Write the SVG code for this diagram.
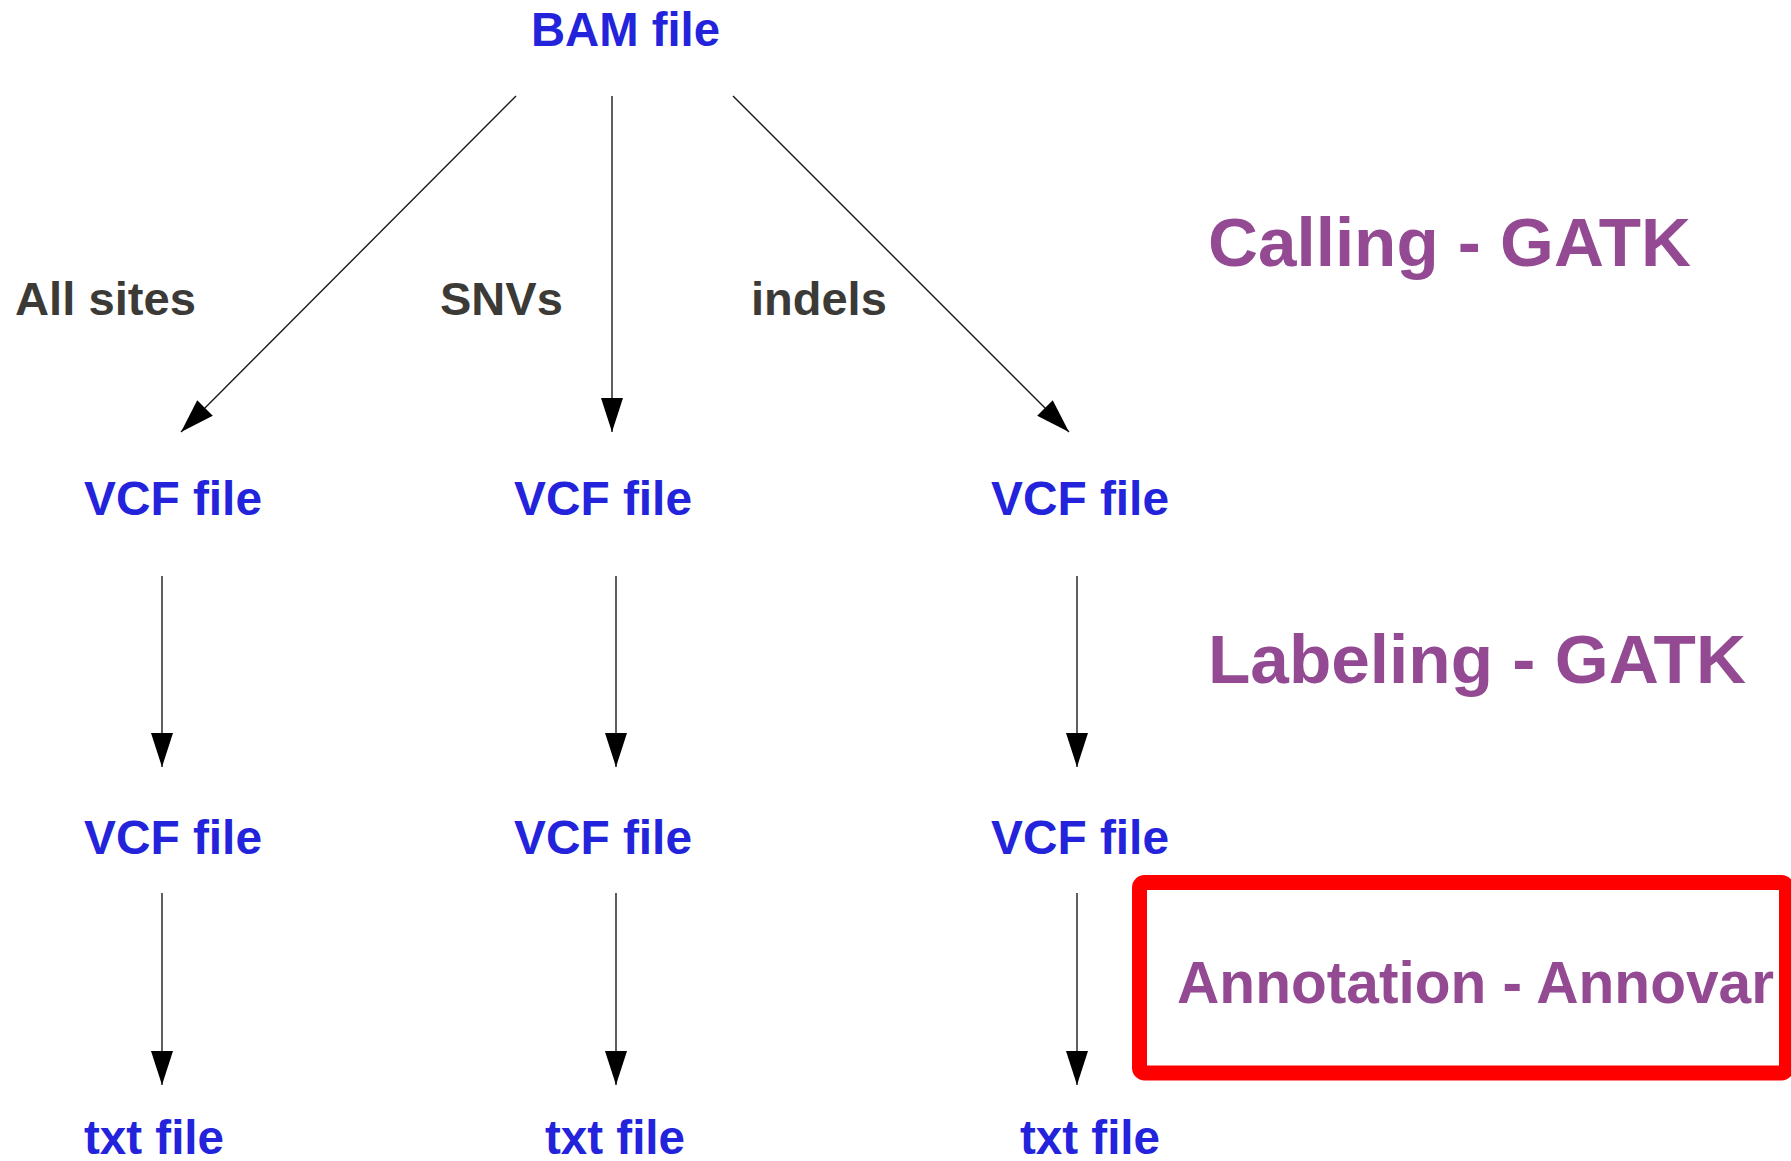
<svg xmlns="http://www.w3.org/2000/svg" width="1791" height="1161" viewBox="0 0 1791 1161">
<defs>
<style>
text{font-family:"Liberation Sans",Arial,sans-serif;font-weight:bold}
.file{fill:#2323dc;font-size:48px}
.lbl{fill:#3b3a36;font-size:47px}
.step{fill:#934a93;font-size:69px}
.conn line{stroke:#1a1a1a;stroke-width:1.4;marker-end:url(#ah)}
</style>
<marker id="ah" markerUnits="userSpaceOnUse" markerWidth="34" markerHeight="22" refX="34" refY="11" orient="auto" viewBox="0 0 34 22">
<path d="M0,0 L34,11 L0,22 z" fill="#000"/>
</marker>
</defs>
<rect width="1791" height="1161" fill="#fff"/>
<g id="connectors" class="conn">
<line x1="516" y1="96" x2="181" y2="432"/>
<line x1="612" y1="96" x2="612" y2="432"/>
<line x1="733" y1="96" x2="1069" y2="432"/>
<line x1="162" y1="576" x2="162" y2="767"/>
<line x1="616" y1="576" x2="616" y2="767"/>
<line x1="1077" y1="576" x2="1077" y2="767"/>
<line x1="162" y1="893" x2="162" y2="1085"/>
<line x1="616" y1="893" x2="616" y2="1085"/>
<line x1="1077" y1="893" x2="1077" y2="1085"/>
</g>
<g id="bam"><text class="file" x="531" y="46" textLength="189" lengthAdjust="spacingAndGlyphs">BAM file</text></g>
<g id="lbl-all"><text class="lbl" x="15" y="315" textLength="181" lengthAdjust="spacingAndGlyphs">All sites</text></g>
<g id="lbl-snv"><text class="lbl" x="440" y="315">SNVs</text></g>
<g id="lbl-indel"><text class="lbl" x="751" y="315">indels</text></g>
<g id="vcf1a"><text class="file" x="84" y="515" textLength="178" lengthAdjust="spacingAndGlyphs">VCF file</text></g>
<g id="vcf2a"><text class="file" x="514" y="515" textLength="178" lengthAdjust="spacingAndGlyphs">VCF file</text></g>
<g id="vcf3a"><text class="file" x="991" y="515" textLength="178" lengthAdjust="spacingAndGlyphs">VCF file</text></g>
<g id="vcf1b"><text class="file" x="84" y="854" textLength="178" lengthAdjust="spacingAndGlyphs">VCF file</text></g>
<g id="vcf2b"><text class="file" x="514" y="854" textLength="178" lengthAdjust="spacingAndGlyphs">VCF file</text></g>
<g id="vcf3b"><text class="file" x="991" y="854" textLength="178" lengthAdjust="spacingAndGlyphs">VCF file</text></g>
<g id="txt1"><text class="file" x="84" y="1154" textLength="140" lengthAdjust="spacingAndGlyphs">txt file</text></g>
<g id="txt2"><text class="file" x="545" y="1154" textLength="140" lengthAdjust="spacingAndGlyphs">txt file</text></g>
<g id="txt3"><text class="file" x="1020" y="1154" textLength="140" lengthAdjust="spacingAndGlyphs">txt file</text></g>
<g id="calling"><text class="step" x="1208" y="266" textLength="483" lengthAdjust="spacingAndGlyphs">Calling - GATK</text></g>
<g id="labeling"><text class="step" x="1208" y="683" textLength="538" lengthAdjust="spacingAndGlyphs">Labeling - GATK</text></g>
<g id="annotation">
<rect x="1139.5" y="882.5" width="647" height="190.5" rx="5" fill="none" stroke="#ff0000" stroke-width="15"/>
<text class="step" x="1177" y="1003" style="font-size:58.5px" textLength="597" lengthAdjust="spacingAndGlyphs">Annotation - Annovar</text>
</g>
</svg>
